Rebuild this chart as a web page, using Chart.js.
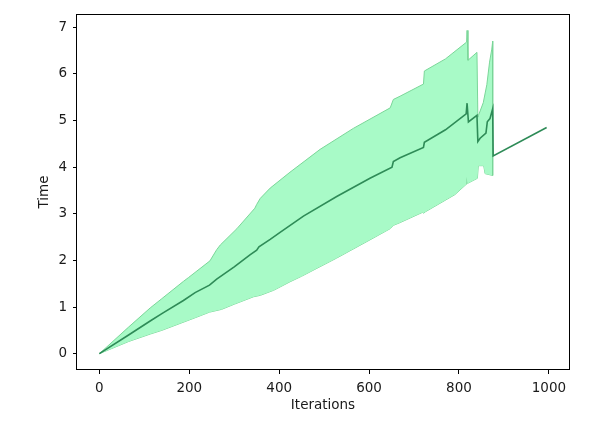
<!DOCTYPE html>
<html>
<head>
<meta charset="utf-8">
<script src="https://cdn.jsdelivr.net/npm/chart.js@4/dist/chart.umd.min.js"></script>
<style>
  html, body { margin: 0; padding: 0; background: #fff; }
  #wrap { width: 599px; height: 423px; }
</style>
</head>
<body>
<div id="wrap"><canvas id="c" width="599" height="423"></canvas></div>
<script>
// ---- data ----
const meanX = [0, 65, 113, 139, 187, 213, 245, 261, 300, 335, 350, 355, 380, 402, 454, 528, 602, 651, 654, 669, 721, 723, 770, 816, 818, 821, 840, 842, 847, 860, 863, 869, 875, 876, 995];
const meanY = [0, 0.40, 0.70, 0.86, 1.14, 1.31, 1.47, 1.60, 1.86, 2.12, 2.22, 2.29, 2.45, 2.60, 2.95, 3.37, 3.76, 4.00, 4.12, 4.20, 4.42, 4.53, 4.80, 5.14, 5.37, 4.97, 5.11, 4.55, 4.62, 4.73, 4.97, 5.04, 5.25, 4.24, 4.85];

const upperX = [0, 65, 113, 139, 187, 198, 246, 261, 269, 306, 346, 350, 358, 380, 424, 491, 565, 647, 654, 669, 721, 723, 770, 817, 818, 820, 840, 842, 843, 854, 862, 868, 873, 875, 875];
const upperY = [0, 0.57, 0.98, 1.18, 1.55, 1.63, 1.99, 2.23, 2.33, 2.68, 3.12, 3.20, 3.33, 3.55, 3.89, 4.38, 4.83, 5.27, 5.45, 5.52, 5.78, 6.06, 6.32, 6.68, 6.93, 6.29, 6.46, 5.07, 5.10, 5.38, 5.77, 6.25, 6.53, 6.70, 3.82];

const lowerX = [0, 65, 113, 139, 213, 245, 272, 300, 343, 358, 388, 424, 450, 528, 602, 647, 654, 669, 719, 721, 725, 791, 816, 817, 819, 841, 843, 855, 858, 875];
const lowerY = [0, 0.26, 0.42, 0.50, 0.77, 0.89, 0.95, 1.06, 1.22, 1.25, 1.36, 1.54, 1.66, 2.05, 2.44, 2.68, 2.75, 2.81, 3.03, 3.01, 3.04, 3.41, 3.63, 3.79, 3.65, 3.76, 4.03, 4.03, 3.86, 3.82];

const xTicks = [0, 200, 400, 600, 800, 1000];
const yTicks = [0, 1, 2, 3, 4, 5, 6, 7];
const xLabel = 'Iterations';
const yLabel = 'Time';

// ---- build chart ----
const pts = (xs, ys) => xs.map((x, i) => ({ x: x, y: ys[i] }));

const FILL = 'rgb(168,250,199)';
const EDGE = 'rgb(122,214,152)';
const LINE = 'rgb(46,139,87)';
const FONT = { family: 'DejaVu Sans', size: 13.5 };
const TXT = '#1a1a1a';

const framePlugin = {
  id: 'frame',
  afterDraw(chart) {
    const { ctx, chartArea: a } = chart;
    ctx.save();
    ctx.strokeStyle = '#000';
    ctx.lineWidth = 1;
    ctx.strokeRect(Math.round(a.left) - 0.5, Math.round(a.top) + 0.5,
                   Math.round(a.right - a.left) + 1, Math.round(a.bottom - a.top) - 1);
    ctx.restore();
  }
};

new Chart(document.getElementById('c'), {
  type: 'line',
  data: {
    datasets: [
      { label: 'mean', data: pts(meanX, meanY), borderColor: LINE, borderWidth: 1.6,
        pointRadius: 0, fill: false, order: 0, tension: 0 },
      { label: 'upper', data: pts(upperX, upperY), borderColor: EDGE, borderWidth: 1,
        backgroundColor: FILL, pointRadius: 0, fill: '+1', order: 1, tension: 0 },
      { label: 'lower', data: pts(lowerX, lowerY), borderColor: EDGE, borderWidth: 1,
        pointRadius: 0, fill: false, order: 2, tension: 0 }
    ]
  },
  options: {
    responsive: false,
    animation: false,
    layout: { padding: { left: 0, right: 30, top: 4, bottom: 0 } },
    plugins: { legend: { display: false }, tooltip: { enabled: false } },
    scales: {
      x: {
        type: 'linear',
        min: -49.75, max: 1044.75,
        afterBuildTicks: s => { s.ticks = xTicks.map(v => ({ value: v })); },
        afterFit: s => { s.height = 53; },
        grid: { drawOnChartArea: false, tickLength: 4, color: '#000', tickWidth: 1 },
        border: { display: false },
        ticks: { font: FONT, color: TXT, padding: 6, maxRotation: 0, callback: v => String(v) },
        title: { display: true, text: xLabel, font: FONT, color: TXT, padding: { top: 0, bottom: 9 } }
      },
      y: {
        type: 'linear',
        min: -0.35, max: 7.28,
        afterBuildTicks: s => { s.ticks = yTicks.map(v => ({ value: v })); },
        afterFit: s => { s.width = 77; },
        grid: { drawOnChartArea: false, tickLength: 4, color: '#000', tickWidth: 1 },
        border: { display: false },
        ticks: { font: FONT, color: TXT, padding: 6, callback: v => String(v) },
        title: { display: true, text: yLabel, font: FONT, color: TXT, padding: { top: 36, bottom: 0 } }
      }
    }
  },
  plugins: [framePlugin]
});
</script>
</body>
</html>
